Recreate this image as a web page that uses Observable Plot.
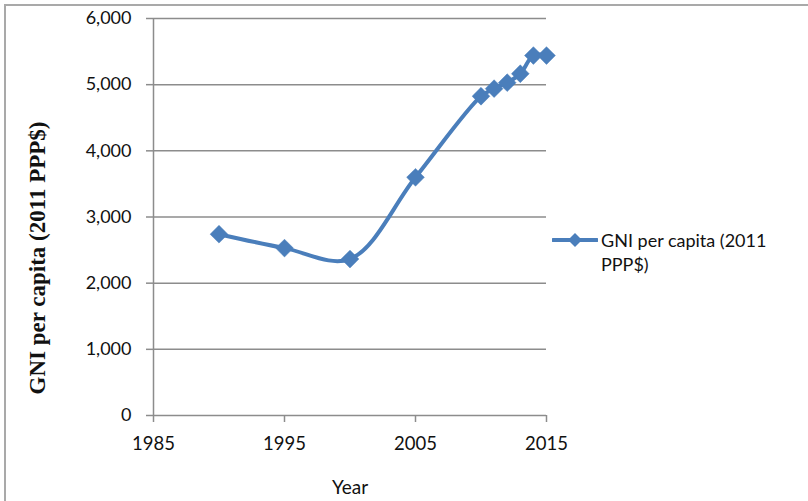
<!DOCTYPE html>
<html>
<head>
<meta charset="utf-8">
<script src="https://cdn.jsdelivr.net/npm/d3@7"></script>
<script src="https://cdn.jsdelivr.net/npm/@observablehq/plot@0.6"></script>
<style>
  html, body { margin: 0; padding: 0; background: #fff; }
  #wrap { position: relative; width: 808px; height: 501px; overflow: hidden; }
  #border { position: absolute; left: 4px; top: 4px; width: 830px; height: 520px;
            border-top: 2px solid #a9a9a9; border-left: 2px solid #a9a9a9; box-sizing: border-box; }
  #legend { position: absolute; left: 552px; top: 228px; font-family: Lato, "Open Sans", sans-serif;
            font-size: 18px; color: #111; display: flex; align-items: flex-start; }
  #legend .txt { margin-left: 3px; line-height: 24px; }
  #legend svg { margin-top: 4px; }
</style>
</head>
<body>
<div id="wrap">
  <div id="border"></div>
  <div id="chart"></div>
  <div id="legend"></div>
</div>
<script>
const years = [1990, 1995, 2000, 2005, 2010, 2011, 2012, 2013, 2014, 2015];
const gni = [2740, 2530, 2365, 3600, 4825, 4940, 5030, 5165, 5440, 5440];
const xTicks = [1985, 1995, 2005, 2015];
const yTicks = [0, 1000, 2000, 3000, 4000, 5000, 6000];
const seriesName = "GNI per capita (2011 PPP$)";
const yTitle = "GNI per capita (2011 PPP$)";
const xTitle = "Year";

const data = years.map((y, i) => ({year: y, value: gni[i]}));
const lineColor = "#4a7ebb";
const gridColor = "#8c8c8c";

const chart = Plot.plot({
  width: 808,
  height: 501,
  marginLeft: 153,
  marginRight: 262,
  marginTop: 18,
  marginBottom: 86,
  style: {fontFamily: "Lato, 'Open Sans', sans-serif", fontSize: "18px", color: "#111", background: "transparent"},
  x: {domain: [1985, 2015], label: null},
  y: {domain: [0, 6000], label: null},
  marks: [
    Plot.gridY(yTicks, {stroke: gridColor, strokeOpacity: 1, strokeWidth: 1.5}),
    Plot.ruleX([1985], {y1: 0, y2: 6000, stroke: gridColor, strokeWidth: 1.5}),
    Plot.axisY({ticks: yTicks, tickFormat: d3.format(","), tickSize: 7, tickPadding: 15, stroke: gridColor, strokeWidth: 1.5, fill: "#111", fontSize: 18}),
    Plot.axisX({ticks: xTicks, tickFormat: d => String(d), tickSize: 7, tickPadding: 14, stroke: gridColor, strokeWidth: 1.5, fill: "#111", fontSize: 18.5}),
    Plot.line(data, {x: "year", y: "value", stroke: lineColor, strokeWidth: 4, curve: "catmull-rom"}),
    Plot.dot(data, {x: "year", y: "value", symbol: "diamond2", r: 8, fill: lineColor, stroke: lineColor, strokeWidth: 0.5}),
    Plot.text([yTitle], {frameAnchor: "left", textAnchor: "middle", lineAnchor: "middle", rotate: -90, dx: -116, dy: 41, fontFamily: "'Liberation Serif', 'Times New Roman', serif", fontWeight: "bold", fontSize: 23, letterSpacing: "1.5px", fill: "#111"}),
    Plot.text([xTitle], {frameAnchor: "bottom", lineAnchor: "middle", dy: 72, fontSize: 19, fill: "#111"})
  ]
});
document.getElementById("chart").appendChild(chart);

// legend
const lg = document.getElementById("legend");
const sym = d3.create("svg").attr("width", 46).attr("height", 16);
sym.append("line").attr("x1", 1).attr("x2", 45).attr("y1", 8).attr("y2", 8)
  .attr("stroke", lineColor).attr("stroke-width", 4).attr("stroke-linecap", "round");
sym.append("path").attr("d", "M23,1 L30,8 L23,15 L16,8 Z").attr("fill", lineColor);
lg.appendChild(sym.node());
const t = document.createElement("div");
t.className = "txt";
const parts = seriesName.split(" ");
t.innerHTML = parts.slice(0, 4).join(" ") + "<br>" + parts.slice(4).join(" ");
lg.appendChild(t);
</script>
</body>
</html>
